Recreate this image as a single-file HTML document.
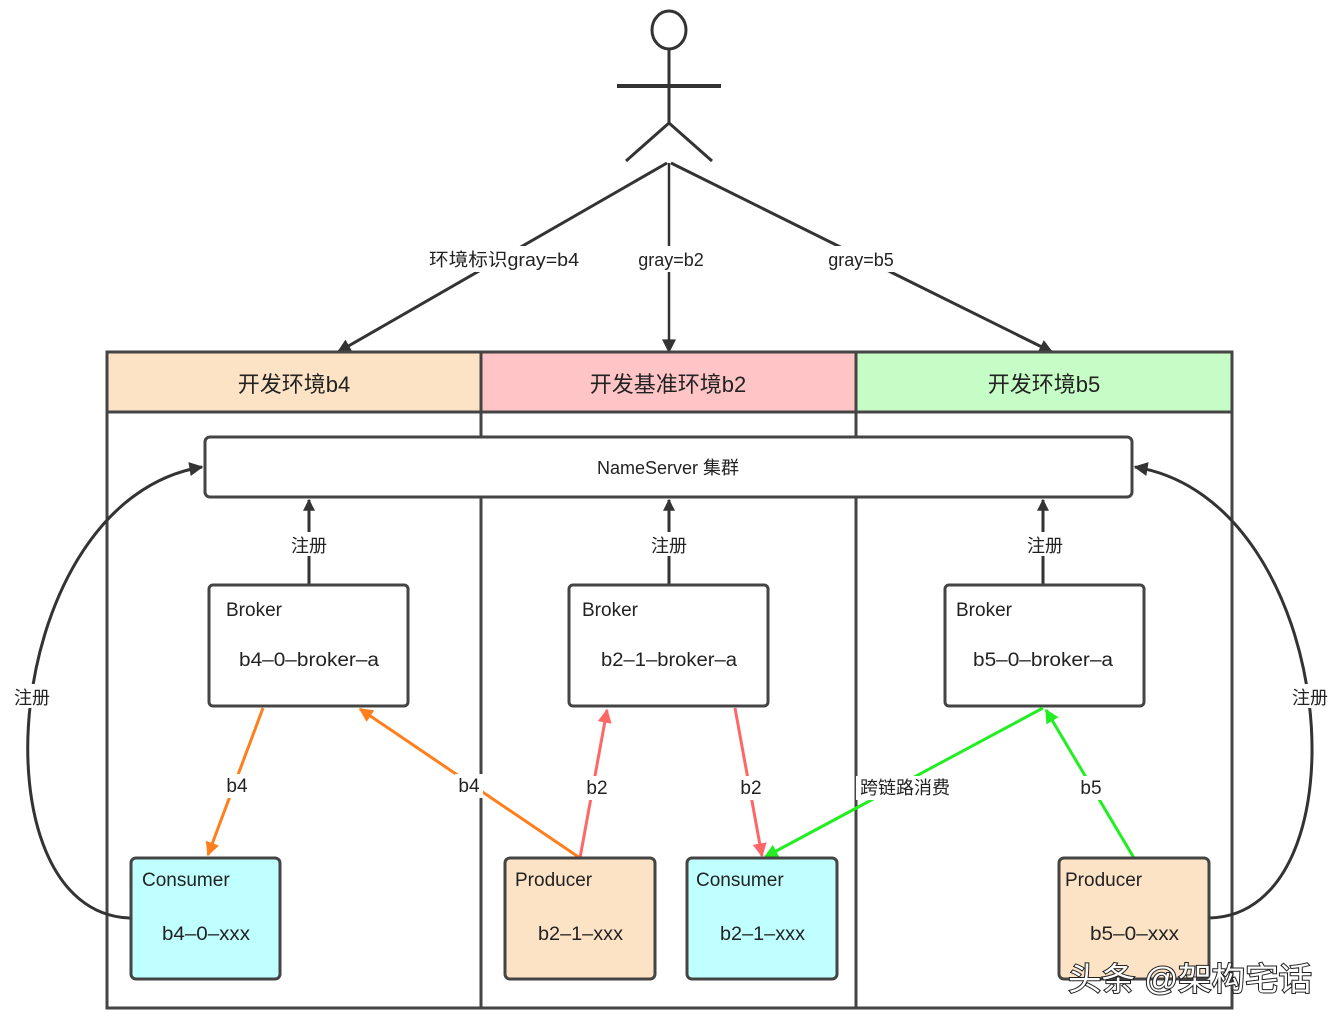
<!DOCTYPE html>
<html><head><meta charset="utf-8"><style>
html,body{margin:0;padding:0;background:#fff;}
svg{display:block;font-family:"Liberation Sans","Noto Sans CJK SC",sans-serif;}
</style></head><body>
<svg width="1342" height="1024" viewBox="0 0 1342 1024" xmlns="http://www.w3.org/2000/svg">
<defs>
<marker id="ak" viewBox="0 0 10 10" refX="9" refY="5" markerWidth="16" markerHeight="12" orient="auto" markerUnits="userSpaceOnUse"><path d="M0,0 L10,5 L0,10 Z" fill="#333"/></marker>
<marker id="ak2" viewBox="0 0 10 10" refX="9" refY="5" markerWidth="18" markerHeight="14" orient="auto" markerUnits="userSpaceOnUse"><path d="M0,0 L10,5 L0,10 Z" fill="#333"/></marker>
<marker id="ao" viewBox="0 0 10 10" refX="9" refY="5" markerWidth="18" markerHeight="14" orient="auto" markerUnits="userSpaceOnUse"><path d="M0,0 L10,5 L0,10 Z" fill="#ff7f1e"/></marker>
<marker id="ar" viewBox="0 0 10 10" refX="9" refY="5" markerWidth="18" markerHeight="14" orient="auto" markerUnits="userSpaceOnUse"><path d="M0,0 L10,5 L0,10 Z" fill="#ff6666"/></marker>
<marker id="ag" viewBox="0 0 10 10" refX="9" refY="5" markerWidth="18" markerHeight="14" orient="auto" markerUnits="userSpaceOnUse"><path d="M0,0 L10,5 L0,10 Z" fill="#22ee22"/></marker>
</defs>

<g stroke="#333" stroke-width="3" fill="none">
<ellipse cx="669" cy="30" rx="17" ry="19" fill="#fff"/>
<line x1="669" y1="49" x2="669" y2="124"/>
<line x1="617" y1="86" x2="721" y2="86" stroke-width="4"/>
<line x1="669" y1="123" x2="626" y2="161"/>
<line x1="669" y1="123" x2="712" y2="161"/>
</g>
<g stroke="#333" stroke-width="3" fill="none">
<line x1="667" y1="163" x2="338" y2="352" marker-end="url(#ak2)"/>
<line x1="669" y1="163" x2="669" y2="352" marker-end="url(#ak2)" stroke-width="2.5"/>
<line x1="671" y1="163" x2="1052" y2="352" marker-end="url(#ak2)"/>
</g>
<g font-size="18" fill="#222" text-anchor="middle">
<rect x="426" y="246" width="156" height="26" fill="#fff"/>
<text x="504" y="266" textLength="150" lengthAdjust="spacingAndGlyphs">环境标识gray=b4</text>
<rect x="632" y="246" width="78" height="26" fill="#fff"/>
<text x="671" y="266">gray=b2</text>
<rect x="822" y="246" width="78" height="26" fill="#fff"/>
<text x="861" y="266">gray=b5</text>
</g>

<rect x="107" y="352" width="374" height="60" fill="#fde3c6"/>
<rect x="481" y="352" width="375" height="60" fill="#ffc4c6"/>
<rect x="856" y="352" width="376" height="60" fill="#c6fdc6"/>
<g stroke="#444" stroke-width="3" fill="none">
<rect x="107" y="352" width="1125" height="656"/>
<line x1="107" y1="412" x2="1232" y2="412"/>
<line x1="481" y1="352" x2="481" y2="1008"/>
<line x1="856" y1="352" x2="856" y2="1008"/>
</g>
<g font-size="22" fill="#222" text-anchor="middle">
<text x="294" y="392">开发环境b4</text>
<text x="668" y="392">开发基准环境b2</text>
<text x="1044" y="392">开发环境b5</text>
</g>

<rect x="205" y="437" width="927" height="60" rx="5" fill="#fff" stroke="#444" stroke-width="3"/>
<text x="668" y="474" font-size="18" text-anchor="middle" fill="#222">NameServer 集群</text>

<g stroke="#333" stroke-width="3" fill="none">
<line x1="309" y1="585" x2="309" y2="500" marker-end="url(#ak)"/>
<line x1="669" y1="585" x2="669" y2="500" marker-end="url(#ak)"/>
<line x1="1043" y1="585" x2="1043" y2="500" marker-end="url(#ak)"/>
<path d="M131,918 C-30,915 0,500 202,467" marker-end="url(#ak2)"/>
<path d="M1209,918 C1370,915 1340,500 1135,467" marker-end="url(#ak2)"/>
</g>
<g font-size="18" fill="#222" text-anchor="middle">
<rect x="288" y="532" width="42" height="24" fill="#fff"/><text x="309" y="552">注册</text>
<rect x="648" y="532" width="42" height="24" fill="#fff"/><text x="669" y="552">注册</text>
<rect x="1022" y="532" width="42" height="24" fill="#fff"/><text x="1045" y="552">注册</text>
<rect x="12" y="684" width="40" height="24" fill="#fff"/><text x="32" y="704">注册</text>
<rect x="1288" y="684" width="42" height="24" fill="#fff"/><text x="1310" y="704">注册</text>
</g>

<g stroke="#444" stroke-width="3" fill="#fff">
<rect x="209" y="585" width="199" height="121" rx="4"/>
<rect x="569" y="585" width="199" height="121" rx="4"/>
<rect x="945" y="585" width="199" height="121" rx="4"/>
</g>
<g font-size="19" fill="#222">
<text x="226" y="616">Broker</text><text x="239" y="666" textLength="140" lengthAdjust="spacingAndGlyphs">b4–0–broker–a</text>
<text x="582" y="616">Broker</text><text x="601" y="666" textLength="136" lengthAdjust="spacingAndGlyphs">b2–1–broker–a</text>
<text x="956" y="616">Broker</text><text x="973" y="666" textLength="140" lengthAdjust="spacingAndGlyphs">b5–0–broker–a</text>
</g>

<g stroke-width="3" fill="none">
<line x1="263" y1="708" x2="208" y2="855" stroke="#ff7f1e" marker-end="url(#ao)"/>
<line x1="580" y1="858" x2="360" y2="709" stroke="#ff7f1e" marker-end="url(#ao)"/>
<line x1="580" y1="858" x2="607" y2="710" stroke="#ff6666" marker-end="url(#ar)"/>
<line x1="735" y1="708" x2="762" y2="856" stroke="#ff6666" marker-end="url(#ar)"/>
<line x1="1043" y1="708" x2="765" y2="857" stroke="#22ee22" marker-end="url(#ag)"/>
<line x1="1134" y1="858" x2="1046" y2="710" stroke="#22ee22" marker-end="url(#ag)"/>
</g>
<g font-size="19" fill="#222" text-anchor="middle">
<rect x="222" y="774" width="30" height="24" fill="#fff"/><text x="237" y="792">b4</text>
<rect x="455" y="774" width="28" height="24" fill="#fff"/><text x="469" y="792">b4</text>
<rect x="583" y="776" width="28" height="24" fill="#fff"/><text x="597" y="794">b2</text>
<rect x="737" y="776" width="28" height="24" fill="#fff"/><text x="751" y="794">b2</text>
<rect x="856" y="776" width="98" height="24" fill="#fff"/><text x="905" y="794" font-size="18">跨链路消费</text>
<rect x="1077" y="776" width="28" height="24" fill="#fff"/><text x="1091" y="794">b5</text>
</g>

<g stroke="#444" stroke-width="3">
<rect x="131" y="858" width="149" height="121" rx="5" fill="#c0ffff"/>
<rect x="505" y="858" width="150" height="121" rx="5" fill="#fde3c6"/>
<rect x="687" y="858" width="150" height="121" rx="5" fill="#c0ffff"/>
<rect x="1059" y="858" width="150" height="121" rx="5" fill="#fde3c6"/>
</g>
<g font-size="19" fill="#222">
<text x="142" y="886">Consumer</text><text x="162" y="940" textLength="88" lengthAdjust="spacingAndGlyphs">b4–0–xxx</text>
<text x="515" y="886">Producer</text><text x="538" y="940" textLength="85" lengthAdjust="spacingAndGlyphs">b2–1–xxx</text>
<text x="696" y="886">Consumer</text><text x="720" y="940" textLength="85" lengthAdjust="spacingAndGlyphs">b2–1–xxx</text>
<text x="1065" y="886">Producer</text><text x="1090" y="940" textLength="89" lengthAdjust="spacingAndGlyphs">b5–0–xxx</text>
</g>

<text x="1068" y="990" font-size="32" fill="#fff" stroke="#222" stroke-width="2" paint-order="stroke" textLength="244" lengthAdjust="spacingAndGlyphs">头条 @架构宅话</text>
</svg>
</body></html>
